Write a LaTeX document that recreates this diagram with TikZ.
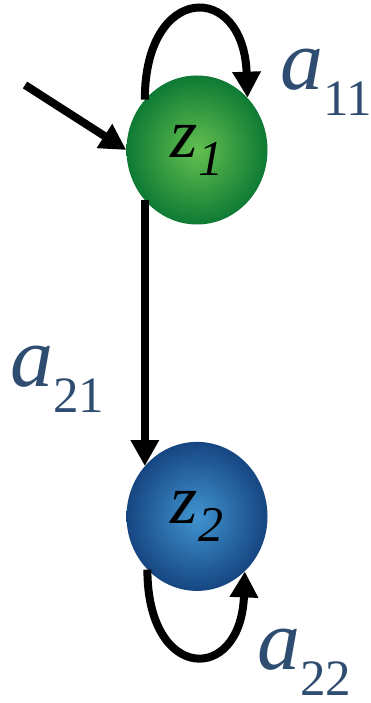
\documentclass[tikz,border=0pt]{standalone}
\usepackage{fontspec}
\setmainfont{Liberation Serif}
\usetikzlibrary{arrows.meta, positioning, shapes.geometric}
\definecolor{ballGreenIn}{RGB}{100,192,80}
\definecolor{ballGreenOut}{RGB}{14,122,52}
\definecolor{ballBlueIn}{RGB}{64,148,208}
\definecolor{ballBlueOut}{RGB}{22,70,130}
\definecolor{probText}{RGB}{47,77,112}
\newcommand{\statename}[1]{\fontsize{70}{70}\selectfont\itshape z\raisebox{-18pt}{\fontsize{50}{50}\selectfont #1}}
\newcommand{\transprob}[1]{\fontsize{86}{86}\selectfont\itshape a\raisebox{-26pt}{\upshape\fontsize{51}{51}\selectfont #1}}
\tikzset{
    greenball/.style={
        ellipse,
        minimum width=141pt,
        minimum height=149pt,
        inner sep=0pt,
        inner color=ballGreenIn,
        outer color=ballGreenOut
    },
    blueball/.style={
        ellipse,
        minimum width=141pt,
        minimum height=149pt,
        inner sep=0pt,
        inner color=ballBlueIn,
        outer color=ballBlueOut
    },
    transarrow/.style={-{Triangle[length=26pt, width=27pt]}, line width=8pt, draw=black},
    problabel/.style={anchor=base west, inner sep=0pt, text=probText}
}
\begin{document}
\begin{tikzpicture}[x=1pt, y=1pt, node distance=217pt]
    \useasboundingbox (0,0) rectangle (371,703);
    \node[greenball] (z1) at (197,553) {\statename{1}};
    \node[blueball, below=of z1] (z2) {\statename{2}};
    \coordinate (entry) at (25,618);
    % transitions
    \draw[transarrow] (entry) -- (z1.180);
    \draw[transarrow] (z1.136) .. controls +(0,117) and +(-4,117) .. (z1.46);
    \draw[transarrow] (z1.224) -- (z2.136);
    \draw[transarrow] (z2.227) .. controls +(0,-113) and +(-4,-113) .. (z2.311);
    % labels
    \node[problabel] (a11) at (280,613) {\transprob{11}};
    \node[problabel] (a21) at (10,316) {\transprob{21}};
    \node[problabel] (a22) at (257,33) {\transprob{22}};
\end{tikzpicture}
\end{document}
